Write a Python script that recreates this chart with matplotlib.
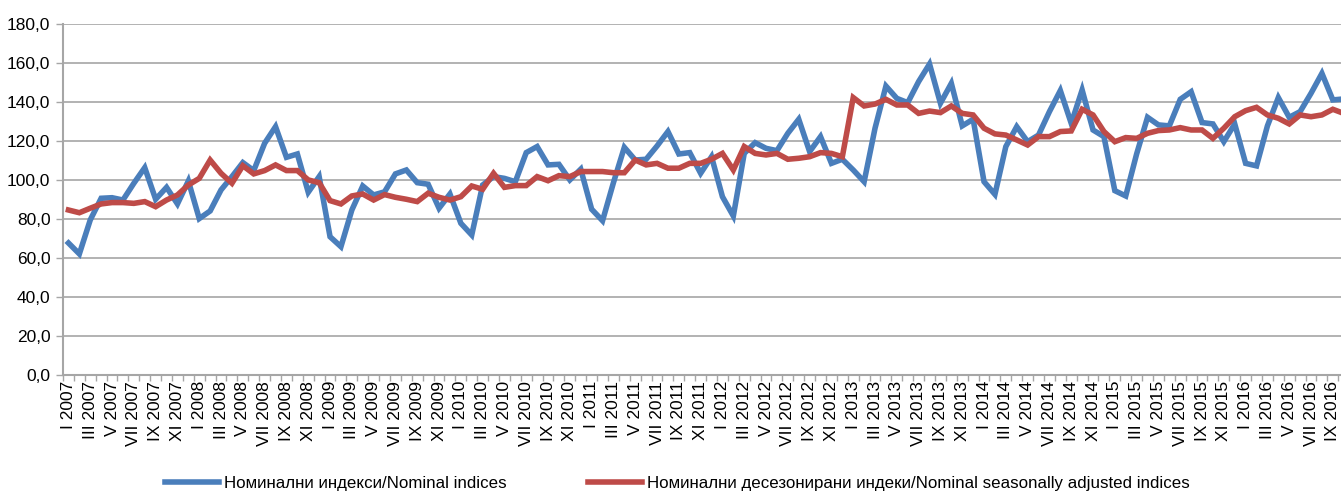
import matplotlib
matplotlib.use("Agg")
import matplotlib.pyplot as plt
import numpy as np
from matplotlib.ticker import FixedLocator, FuncFormatter

plt.rcParams['font.family'] = ['Liberation Sans', 'DejaVu Sans']

# months I 2007 .. X 2016
roman = ['I', 'II', 'III', 'IV', 'V', 'VI', 'VII', 'VIII', 'IX', 'X', 'XI', 'XII']
months = [f'{r} {y}' for y in range(2007, 2017) for r in roman][:118]

nominal = [
    67.8, 62.2, 79.6, 90.7, 91.0, 89.8, 98.4, 106.4, 90.2, 96.3, 87.8, 99.6,
    80.3, 84.2, 95.0, 101.8, 109.0, 104.9, 118.9, 127.4, 111.7, 113.4, 93.8, 101.8,
    71.0, 65.9, 84.7, 97.0, 92.4, 94.0, 103.2, 105.2, 98.7, 97.9, 85.6, 92.9,
    77.9, 71.9, 97.5, 101.8, 100.9, 99.2, 114.1, 117.2, 107.8, 108.1, 100.1, 105.6,
    85.1, 79.2, 98.7, 116.8, 110.3, 110.7, 117.5, 124.9, 113.4, 114.1, 103.5, 112.0,
    91.5, 81.6, 113.7, 119.2, 116.3, 115.1, 124.0, 131.2, 114.6, 122.3, 108.6, 110.7,
    105.2, 99.2, 126.6, 148.2, 141.9, 139.7, 150.5, 159.5, 139.4, 149.6, 127.8, 131.2,
    99.2, 92.7, 117.2, 127.4, 119.7, 123.1, 135.1, 145.9, 129.1, 146.2, 125.7, 122.3,
    94.6, 91.9, 113.4, 132.2, 128.3, 127.8, 141.4, 145.3, 129.5, 128.8, 119.7, 128.8,
    108.6, 107.3, 127.8, 142.3, 132.2, 135.1, 144.5, 154.7, 141.1, 141.6,
]
seas_adj = [
    84.7, 83.3, 85.6, 87.8, 88.5, 88.5, 88.1, 89.0, 86.4, 89.8, 92.4, 97.5,
    100.9, 110.3, 103.5, 98.4, 107.4, 103.2, 104.9, 107.8, 104.9, 104.9, 100.1, 98.7,
    89.5, 87.8, 91.9, 92.9, 89.8, 92.6, 91.2, 90.2, 89.0, 93.3, 91.2, 89.8,
    91.5, 97.0, 95.3, 103.5, 96.3, 97.2, 97.2, 101.8, 99.7, 102.3, 101.8, 104.4,
    104.4, 104.4, 103.8, 103.8, 110.3, 107.8, 108.6, 106.1, 106.1, 108.6, 108.6, 110.7,
    113.7, 105.2, 117.2, 113.7, 112.9, 113.7, 110.7, 111.2, 112.0, 114.1, 113.7, 112.0,
    142.3, 138.0, 139.0, 141.4, 138.5, 138.5, 134.2, 135.4, 134.6, 138.0, 134.2, 133.4,
    126.6, 123.7, 123.1, 120.6, 118.0, 122.3, 122.3, 124.9, 125.2, 136.3, 133.4, 124.9,
    119.7, 121.8, 121.4, 124.0, 125.4, 125.7, 126.9, 125.7, 125.7, 121.4, 126.6, 132.5,
    135.6, 137.3, 133.4, 131.7, 128.8, 133.4, 132.5, 133.4, 136.3, 134.2,
]

blue = '#4A7EBB'
red = '#BE4B48'
grid_c = '#A6A6A6'

fig = plt.figure(figsize=(13.41, 4.94), dpi=100)
ax = fig.add_axes([63 / 1341, 1 - 375.3 / 494, 1 - 63 / 1341, 351.3 / 494])

x = np.arange(len(months))
ax.plot(x, nominal, color=blue, lw=4.0, solid_joinstyle='miter',
        label='Номинални индекси/Nominal indices')
ax.plot(x, seas_adj, color=red, lw=4.0, solid_joinstyle='miter',
        label='Номинални десезонирани индеки/Nominal seasonally adjusted indices')

ax.set_ylim(0, 180)
ax.set_xlim(-0.5, 116.75)
ax.set_yticks(np.arange(0, 181, 20))
ax.yaxis.set_major_formatter(FuncFormatter(lambda v, p: f'{v:.1f}'.replace('.', ',')))
ax.grid(axis='y', color=grid_c, lw=1.2)
ax.set_axisbelow(True)

# category boundaries as ticks, labels every 2 months at centres
ax.xaxis.set_major_locator(FixedLocator(np.arange(-0.5, len(months), 1)))
ax.xaxis.set_major_formatter(FuncFormatter(lambda v, p: ''))
ax.xaxis.set_minor_locator(FixedLocator(x[::2]))
ax.set_xticklabels(months[::2], minor=True, rotation=90, fontsize=12.5)
ax.tick_params(axis='x', which='major', length=4, width=1, color=grid_c, direction='out')
ax.tick_params(axis='x', which='minor', length=0, pad=4)
ax.tick_params(axis='y', length=5, width=1, color=grid_c, labelsize=12.5, pad=4)

for s in ['top', 'right']:
    ax.spines[s].set_visible(False)
for s in ['left', 'bottom']:
    ax.spines[s].set_color(grid_c)
    ax.spines[s].set_linewidth(1.5)

fig.legend(loc='center', bbox_to_anchor=(0.505, 1 - 483 / 494), ncol=2, frameon=False,
           fontsize=12.2, handlelength=3.2, handletextpad=0.3, columnspacing=4.8,
           borderaxespad=0)

fig.savefig('out.png', dpi=100)
